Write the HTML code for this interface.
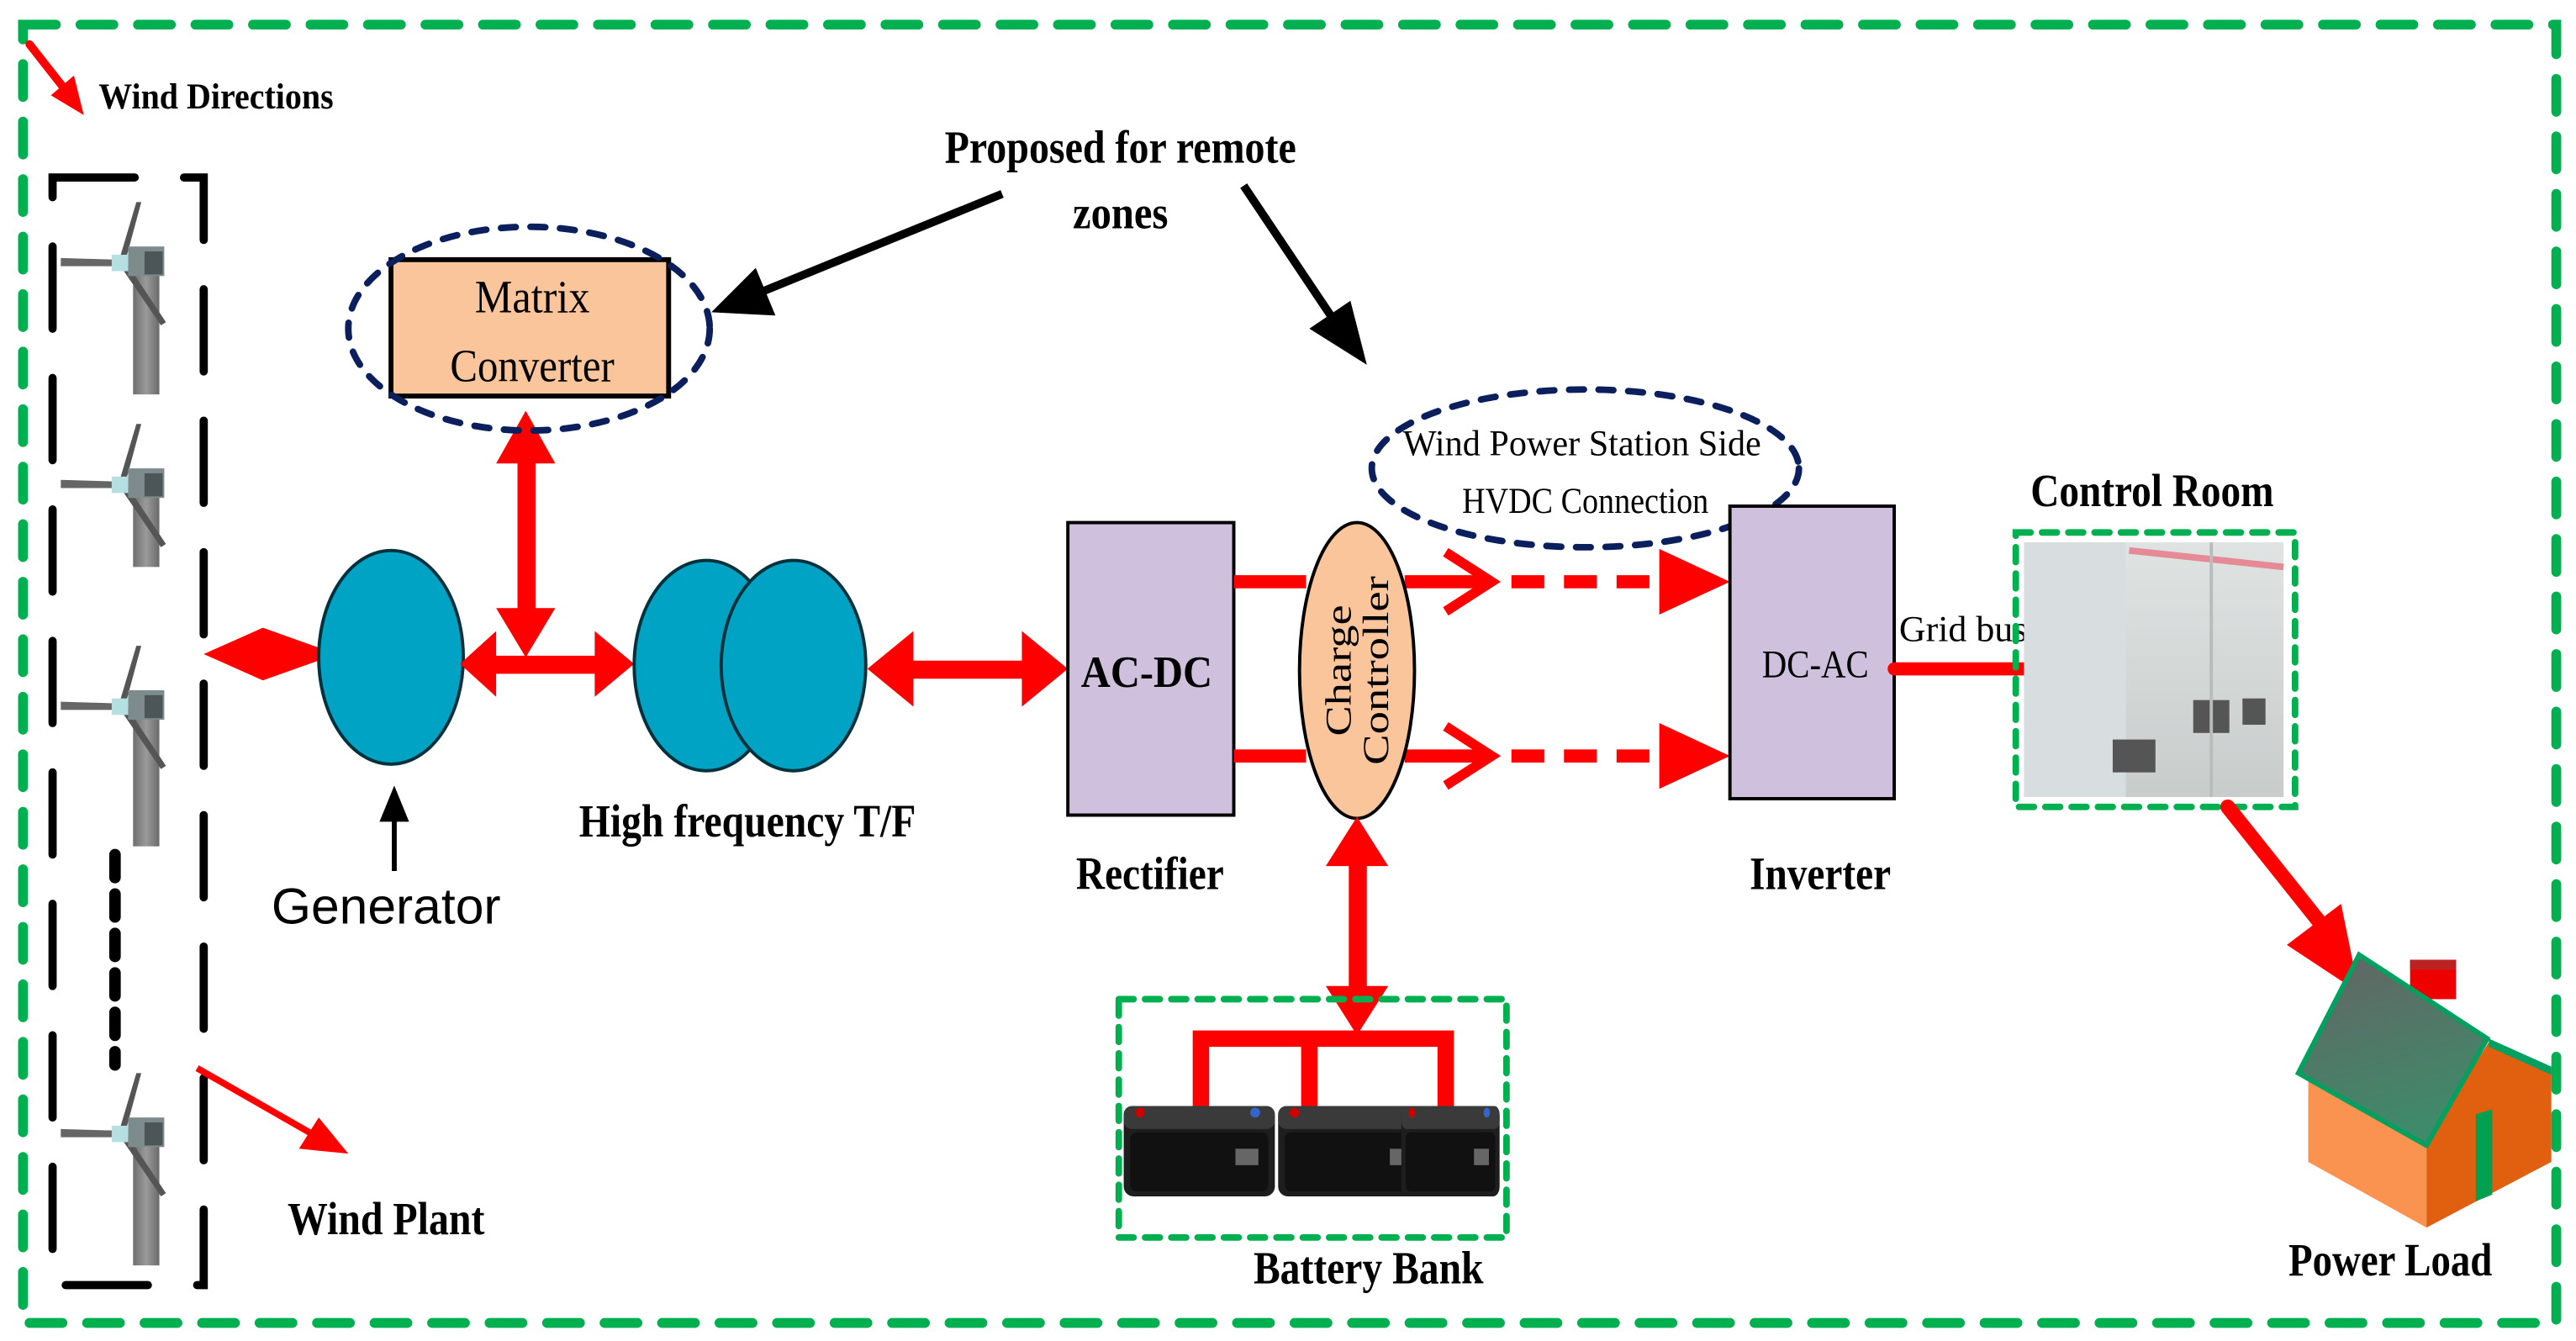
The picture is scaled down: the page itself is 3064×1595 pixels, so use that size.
<!DOCTYPE html>
<html><head><meta charset="utf-8"><style>
html,body{margin:0;padding:0;background:#fff;}
svg{display:block;}
text{font-family:"Liberation Serif",serif;fill:#000;}
.b{font-weight:bold;}
</style></head><body>
<svg width="3064" height="1595" viewBox="0 0 1568 816" preserveAspectRatio="none" xmlns="http://www.w3.org/2000/svg">
<defs>
<linearGradient id="tw" x1="0" x2="1"><stop offset="0" stop-color="#6e6e6e"/><stop offset="0.5" stop-color="#9a9a9a"/><stop offset="1" stop-color="#6a6a6a"/></linearGradient>
<linearGradient id="cab" x1="0" x2="0" y1="0" y2="1"><stop offset="0" stop-color="#dfe3e2"/><stop offset="1" stop-color="#c8cccb"/></linearGradient>
<linearGradient id="roof" x1="0" x2="0.3" y1="0" y2="1"><stop offset="0" stop-color="#646464"/><stop offset="1" stop-color="#3f8a6a"/></linearGradient>
<g id="head">
<polygon points="11,-37 14,-37 4,0 0,0" fill="#555"/>
<polygon points="0,-2 -35,-3 -35,2 0,2" fill="#666"/>
<polygon points="0,0 3,-3 29,36 26,38" fill="#555"/>
<rect x="6" y="-10" width="22" height="18" fill="#7d8b8d"/>
<rect x="16" y="-7" width="11" height="14" fill="#4c5658"/>
<rect x="-4" y="-5" width="10" height="10" fill="#b5e0e3"/>
</g>
<g id="batt">
<rect x="0" y="0" width="92" height="55" rx="6" fill="#1e1e1e"/>
<rect x="0" y="0" width="92" height="14" rx="5" fill="#3a3a3a"/>
<rect x="4" y="16" width="84" height="36" rx="4" fill="#111"/>
<rect x="68" y="26" width="14" height="10" fill="#666"/>
<circle cx="10" cy="4" r="3" fill="#c00"/><circle cx="80" cy="4" r="3" fill="#36c"/>
</g>
</defs>

<!-- outer border -->
<rect x="14" y="15" width="1542" height="790" fill="none" stroke="#00b050" stroke-width="6" stroke-dasharray="20 15" stroke-linecap="round"/>

<!-- wind directions -->
<line x1="18" y1="27" x2="40" y2="55" stroke="red" stroke-width="5" stroke-linecap="round"/>
<polygon points="51,70 31,58 45,46" fill="red"/>
<text x="60" y="66" class="b" font-size="22" textLength="143" lengthAdjust="spacingAndGlyphs">Wind Directions</text>

<!-- wind plant box -->
<rect x="32" y="108" width="92" height="674" fill="none" stroke="#000" stroke-width="5" stroke-dasharray="50 30" stroke-linecap="round"/>
<rect x="81" y="158" width="16" height="82" fill="url(#tw)"/>
<use href="#head" transform="translate(72,160)"/>
<rect x="81" y="293" width="16" height="52" fill="url(#tw)"/>
<use href="#head" transform="translate(72,295)"/>
<rect x="81" y="428" width="16" height="87" fill="url(#tw)"/>
<use href="#head" transform="translate(72,430)"/>
<rect x="81" y="688" width="16" height="82" fill="url(#tw)"/>
<use href="#head" transform="translate(72,690)"/>
<line x1="70" y1="520" x2="70" y2="648" stroke="#000" stroke-width="7" stroke-dasharray="14 10" stroke-linecap="round"/>
<line x1="120" y1="650" x2="190" y2="690" stroke="red" stroke-width="4"/>
<polygon points="212,702 182,699 194,680" fill="red"/>
<text x="175" y="751" class="b" font-size="28" textLength="120" lengthAdjust="spacingAndGlyphs">Wind Plant</text>

<!-- generator -->
<polygon points="124,398 160,382 205,398 160,414" fill="red"/>
<ellipse cx="238" cy="400" rx="44" ry="65" fill="#00a3c4" stroke="#05313c" stroke-width="2"/>
<line x1="240" y1="530" x2="240" y2="495" stroke="#000" stroke-width="3"/>
<polygon points="240,478 231,500 249,500" fill="#000"/>
<text x="235" y="562" font-size="31" text-anchor="middle" style="font-family:'Liberation Sans',sans-serif">Generator</text>

<!-- gen to TF arrows -->
<rect x="295" y="399" width="70" height="11" fill="red"/>
<polygon points="280,404 302,384 302,424" fill="red"/>
<polygon points="386,404 362,384 362,424" fill="red"/>
<rect x="315" y="270" width="11" height="120" fill="red"/>
<polygon points="320,250 302,282 338,282" fill="red"/>
<polygon points="320,400 302,370 338,370" fill="red"/>

<!-- matrix converter -->
<rect x="238" y="158" width="169" height="83" fill="#fbc59c" stroke="#000" stroke-width="3"/>
<text x="324" y="190" font-size="28" text-anchor="middle" textLength="70" lengthAdjust="spacingAndGlyphs">Matrix</text>
<text x="324" y="232" font-size="28" text-anchor="middle" textLength="100" lengthAdjust="spacingAndGlyphs">Converter</text>
<ellipse cx="322" cy="200" rx="110" ry="62" fill="none" stroke="#0a1f5c" stroke-width="4" stroke-dasharray="9 9" stroke-linecap="round"/>

<!-- proposed -->
<text x="682" y="99" class="b" font-size="28" text-anchor="middle" textLength="214" lengthAdjust="spacingAndGlyphs">Proposed for remote</text>
<text x="682" y="139" class="b" font-size="28" text-anchor="middle" textLength="58" lengthAdjust="spacingAndGlyphs">zones</text>
<line x1="610" y1="118" x2="465" y2="177" stroke="#000" stroke-width="5"/>
<polygon points="433,190 460,163 472,192" fill="#000"/>
<line x1="757" y1="113" x2="812" y2="195" stroke="#000" stroke-width="5"/>
<polygon points="832,222 797,200 822,183" fill="#000"/>

<!-- HF TF -->
<ellipse cx="430" cy="405" rx="44" ry="64" fill="#00a3c4" stroke="#05313c" stroke-width="2"/>
<ellipse cx="483" cy="405" rx="44" ry="64" fill="#00a3c4" stroke="#05313c" stroke-width="2"/>
<text x="455" y="509" class="b" font-size="28" text-anchor="middle" textLength="205" lengthAdjust="spacingAndGlyphs">High frequency T/F</text>

<rect x="545" y="402" width="90" height="11" fill="red"/>
<polygon points="528,407 556,384 556,430" fill="red"/>
<polygon points="650,407 622,384 622,430" fill="red"/>

<!-- rectifier -->
<rect x="650" y="318" width="101" height="178" fill="#cfc1de" stroke="#000" stroke-width="2"/>
<text x="698" y="418" class="b" font-size="27" text-anchor="middle" textLength="80" lengthAdjust="spacingAndGlyphs">AC-DC</text>
<text x="700" y="541" class="b" font-size="28" text-anchor="middle" textLength="90" lengthAdjust="spacingAndGlyphs">Rectifier</text>

<!-- DC lines -->
<g stroke="red" stroke-width="8" fill="none">
<line x1="751" y1="354" x2="795" y2="354"/>
<line x1="855" y1="354" x2="905" y2="354"/>
<line x1="751" y1="460" x2="795" y2="460"/>
<line x1="855" y1="460" x2="905" y2="460"/>
<line x1="920" y1="354" x2="1015" y2="354" stroke-dasharray="20 12"/>
<line x1="920" y1="460" x2="1015" y2="460" stroke-dasharray="20 12"/>
<polyline points="880,336 908,354 880,372" stroke-width="6"/>
<polyline points="880,442 908,460 880,478" stroke-width="6"/>
</g>
<polygon points="1053,354 1010,334 1010,374" fill="red"/>
<polygon points="1053,460 1010,440 1010,480" fill="red"/>

<!-- charge controller -->
<ellipse cx="826" cy="408" rx="35" ry="90" fill="#fbc59c" stroke="#000" stroke-width="2"/>
<text transform="translate(822,408) rotate(-90)" font-size="22" text-anchor="middle" textLength="80" lengthAdjust="spacingAndGlyphs">Charge</text>
<text transform="translate(845,408) rotate(-90)" font-size="22" text-anchor="middle" textLength="115" lengthAdjust="spacingAndGlyphs">Controller</text>

<!-- HVDC ellipse -->
<ellipse cx="965" cy="285" rx="130" ry="48" fill="none" stroke="#0a1f5c" stroke-width="4" stroke-dasharray="9 9" stroke-linecap="round"/>
<text x="963" y="277" font-size="22" text-anchor="middle" textLength="218" lengthAdjust="spacingAndGlyphs">Wind Power Station Side</text>
<text x="965" y="312" font-size="22" text-anchor="middle" textLength="150" lengthAdjust="spacingAndGlyphs">HVDC Connection</text>

<!-- inverter -->
<rect x="1053" y="308" width="100" height="178" fill="#cfc1de" stroke="#000" stroke-width="2"/>
<text x="1105" y="412" font-size="24" text-anchor="middle" textLength="65" lengthAdjust="spacingAndGlyphs">DC-AC</text>
<text x="1108" y="541" class="b" font-size="28" text-anchor="middle" textLength="86" lengthAdjust="spacingAndGlyphs">Inverter</text>
<text x="1156" y="390" font-size="22" textLength="78" lengthAdjust="spacingAndGlyphs">Grid bus</text>
<line x1="1153" y1="407" x2="1235" y2="407" stroke="red" stroke-width="8" stroke-linecap="round"/>

<!-- control room -->
<text x="1310" y="308" class="b" font-size="28" text-anchor="middle" textLength="148" lengthAdjust="spacingAndGlyphs">Control Room</text>
<rect x="1232" y="330" width="158" height="155" fill="url(#cab)"/>
<rect x="1232" y="330" width="62" height="155" fill="#d8dedf"/>
<line x1="1296" y1="335" x2="1390" y2="345" stroke="#e58a96" stroke-width="4"/>
<rect x="1286" y="450" width="26" height="20" fill="#555"/>
<rect x="1335" y="426" width="22" height="20" fill="#555"/>
<rect x="1365" y="425" width="14" height="16" fill="#555"/>
<line x1="1346" y1="330" x2="1346" y2="485" stroke="#b9bcbc" stroke-width="2"/>
<rect x="1227" y="324" width="170" height="167" fill="none" stroke="#00b050" stroke-width="4" stroke-dasharray="9 7" stroke-linecap="round"/>
<line x1="1356" y1="491" x2="1415" y2="565" stroke="red" stroke-width="9" stroke-linecap="round"/>
<polygon points="1436,604 1392,575 1425,550" fill="red"/>

<!-- house -->
<rect x="1467" y="584" width="28" height="24" fill="#e00"/>
<polygon points="1467,584 1495,584 1495,590 1467,590" fill="#b22"/>
<polygon points="1405,651 1405,707 1477,747 1477,695" fill="#fb9350"/>
<polygon points="1477,695 1515,634 1553,650 1553,707 1477,747" fill="#e06010"/>
<polygon points="1507,678 1517,675 1517,727 1507,731" fill="#00a050"/>
<polygon points="1436,581 1514,632 1477,697 1399,653" fill="url(#roof)" stroke="#00a060" stroke-width="3"/>
<polygon points="1515,632 1553,649 1553,654 1515,637" fill="#00a060"/>
<text x="1455" y="776" class="b" font-size="28" text-anchor="middle" textLength="124" lengthAdjust="spacingAndGlyphs">Power Load</text>

<!-- battery link -->
<rect x="821" y="520" width="11" height="90" fill="red"/>
<polygon points="826,497 807,527 845,527" fill="red"/>
<polygon points="826,630 807,600 845,600" fill="red"/>
<rect x="681" y="608" width="236" height="145" fill="none" stroke="#00b050" stroke-width="4" stroke-dasharray="9 7" stroke-linecap="round"/>
<g stroke="red" stroke-width="10" fill="none">
<polyline points="731,675 731,632 880,632 880,675"/>
<line x1="797" y1="632" x2="797" y2="675"/>
</g>
<use href="#batt" x="684" y="673"/>
<use href="#batt" x="778" y="673"/>
<g transform="translate(853,673) scale(0.65,1)"><use href="#batt"/></g>
<text x="833" y="781" class="b" font-size="28" text-anchor="middle" textLength="140" lengthAdjust="spacingAndGlyphs">Battery Bank</text>
</svg>
</body></html>
